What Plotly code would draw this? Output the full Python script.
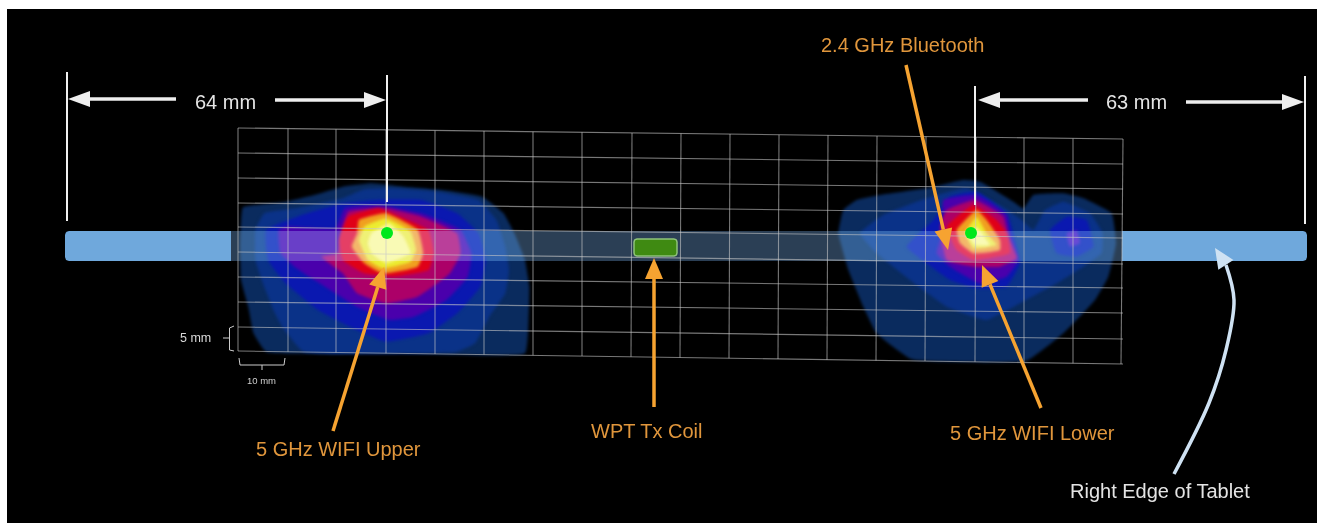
import math
import plotly.graph_objects as go

# ---------- grid lines (picture pixels) ----------
grid_top_x = [238,288,336,386,435,484,533,582,632,681,730,779,828,877,926,976,1024,1073,1123]
grid_bot_x = [238,288,336,386,435,484,533,582,631,680,729,778,827,876,925,975,1024,1073,1121]
grid_left_y = [128,153,178,203,227,252,277,302,327,351]
grid_right_y = [139,164,189,214,238,264,288,313,339,364]

left_scale = (0, 120, 2.8, 3.0)
left_levels = [
 [(680,262),(800,245),(880,225),(960,200),(1040,190),(1130,200),(1240,210),(1350,230),(1410,280),(1440,340),(1470,420),(1482,500),(1480,600),(1470,700),(1100,698),(745,695),(710,640),(695,560),(675,480),(672,380),(675,300)],
 [(715,330),(740,280),(830,265),(960,235),(1020,208),(1100,205),(1220,215),(1340,240),(1390,300),(1415,380),(1425,450),(1415,520),(1370,590),(1330,670),(1280,695),(850,695),(790,620),(770,580),(740,500),(715,420)],
 [(745,330),(860,280),(960,250),(1050,240),(1180,240),(1280,280),(1340,340),(1360,420),(1345,500),(1280,580),(1200,640),(1080,665),(980,620),(890,570),(800,490),(750,420)],
 [(780,330),(800,320),(940,325),(965,265),(1060,255),(1180,280),(1290,330),(1320,400),(1310,470),(1250,540),(1160,590),(1090,600),(1000,560),(910,500),(830,445),(785,400)],
 [(955,340),(975,275),(1080,265),(1180,290),(1280,340),(1290,400),(1260,460),(1170,530),(1080,550),(1000,520),(960,460),(900,410),(945,400)],
 [(950,360),(975,290),(1060,265),(1120,290),(1200,330),(1215,400),(1200,450),(1100,470),(1020,460),(960,420)],
 [(1000,340),(1005,300),(1080,280),(1170,330),(1185,400),(1170,440),(1070,460),(1020,430),(985,380)],
 [(1005,360),(1020,320),(1080,295),(1150,335),(1165,390),(1150,425),(1070,445),(1030,420)],
 [(1030,370),(1040,340),(1090,310),(1130,350),(1150,400),(1080,430),(1040,400)],
]
right_scale = (800, 120, 3.0, 3.0)
right_levels = [
 [(115,340),(130,270),(170,240),(240,225),(380,205),(490,180),(540,185),(640,245),(670,265),(700,225),(790,220),(850,235),(935,280),(948,370),(925,470),(885,540),(790,640),(680,722),(335,718),(230,640),(190,560),(145,450),(125,380)],
 [(180,340),(250,285),(380,235),(500,205),(610,262),(665,300),(700,330),(735,270),(790,245),(870,280),(908,340),(905,400),(850,440),(770,490),(660,550),(560,600),(440,560),(330,480),(230,400)],
 [(320,380),(400,300),(450,230),(530,215),(620,280),(640,340),(660,430),(620,500),(530,505),(450,480),(380,430)],
 [(410,400),(430,330),(430,240),(530,225),(620,285),(630,340),(655,420),(620,470),(540,490),(450,440)],
 [(420,320),(440,270),(525,240),(610,290),(625,350),(650,415),(600,440),(520,440),(440,420)],
 [(440,320),(520,255),(590,300),(620,340),(630,400),(520,420),(470,390)],
 [(470,330),(530,270),(560,300),(600,360),(600,390),(520,400),(480,370)],
 [(495,340),(530,290),(560,340),(590,375),(520,385)],
 [(505,345),(530,320),(560,360),(570,375),(525,375)],
]
lobe_levels = [
 [(750,330),(800,290),(860,300),(880,380),(830,410),(770,400)],
 [(800,340),(830,330),(840,370),(810,380)],
]
level_colors = ["#0a2b5e","#0a3288","#0a18b0","#4a00ac","#ac0068","#e00018","#f0a020","#ecec30","#f8f890"]
lobe_colors = ["#0a18b0","#4a10c0"]

# ---------- tablet and coil ----------
bar_x = [65, 231, 1122, 1307]
bar_y = [231, 261]
coil_x = [634, 677]
coil_y = [239, 256]
hot_x = [387, 971]
hot_y = [233, 233]

# ---------- dimension marks ----------
ext_x = [[67,67],[387,387],[975,975],[1305,1305]]
ext_y = [[72,221],[75,202],[86,205],[76,224]]
white_arrows = [((176,99),(68,99)),((275,100),(386,100)),((1088,100),(978,100)),((1186,102),(1304,102))]
orange_arrows = [((333,431),(384,267)),((654,407),(654,258)),((906,65),(948,250)),((1041,408),(982,265))]
edge_curve_x = [1174,1209,1226,1234,1226]
edge_curve_y = [474,403,350,300,265]
edge_tip = (1215,248)

brace5_x = [234,229.5,229.5,234]
brace5_y = [326,328,350,351]
brace5_tick_x = [223,229]
brace5_tick_y = [338,338]
brace10_x = [239,240,284,285]
brace10_y = [358,365,365,358]
brace10_tick_x = [262,262]
brace10_tick_y = [365,370]

labels = [
 ("64 mm",225,102,20,"#e4e4e4"),("63 mm",1136,102,20,"#e4e4e4"),
 ("2.4 GHz Bluetooth",902,45,20,"#e0963c"),("5 GHz WIFI Upper",338,449,20,"#e0963c"),
 ("WPT Tx Coil",647,431,20,"#e0963c"),("5 GHz WIFI Lower",1032,433,20,"#e0963c"),
 ("Right Edge of Tablet",1160,491,20,"#e4e4e4"),
 ("5 mm",195,338,12.5,"#d8d8d8"),("10 mm",261,380,9.5,"#cfcfcf"),
]

fig = go.Figure()

def poly(xs, ys, color, spline=False, line=None, lw=0):
    fig.add_trace(go.Scatter(x=xs, y=ys, mode="lines", fill="toself", fillcolor=color,
        line=dict(width=lw, color=line or color, shape="spline" if spline else "linear", smoothing=0.35),
        hoverinfo="skip", showlegend=False))

def stroke(xs, ys, color, w, spline=False):
    fig.add_trace(go.Scatter(x=xs, y=ys, mode="lines",
        line=dict(width=w, color=color, shape="spline" if spline else "linear", smoothing=1.0),
        hoverinfo="skip", showlegend=False))

def contour(points, scale, color):
    ox, oy, sx, sy = scale
    xs = [ox + p[0]/sx for p in points]; ys = [oy + p[1]/sy for p in points]
    xs.append(xs[0]); ys.append(ys[0])
    poly(xs, ys, color, spline=True)

def head(tail, tip, length, half, color):
    dx, dy = tip[0]-tail[0], tip[1]-tail[1]
    n = (dx*dx+dy*dy)**0.5
    ux, uy = dx/n, dy/n
    bx, by = tip[0]-ux*length, tip[1]-uy*length
    poly([tip[0], bx-uy*half, bx+uy*half, tip[0]], [tip[1], by+ux*half, by-ux*half, tip[1]], color)
    return bx, by

def rounded(x0, x1, y0, y1, rl, rr):
    xs, ys = [], []
    corners = [(x1-rr, y0+rr, rr, -90), (x1-rr, y1-rr, rr, 0), (x0+rl, y1-rl, rl, 90), (x0+rl, y0+rl, rl, 180)]
    for cx, cy, r, a0 in corners:
        for k in range(6):
            a = math.radians(a0 + 18*k)
            xs.append(cx + r*math.cos(a)); ys.append(cy + r*math.sin(a))
    xs.append(xs[0]); ys.append(ys[0])
    return xs, ys

# black picture area with a thin white margin
poly([7,1317,1317,7,7],[9,9,523,523,9],"#000000")

# hot spots
blob_first = len(fig.data)
for pts, col in zip(left_levels, level_colors):
    contour(pts, left_scale, col)
for pts, col in zip(right_levels, level_colors):
    contour(pts, right_scale, col)
for pts, col in zip(lobe_levels, lobe_colors):
    contour(pts, right_scale, col)
blob_last = len(fig.data) - 1

# translucent tablet section; blended with the screen mode in the page
xs, ys = rounded(bar_x[0], bar_x[1], bar_y[0], bar_y[1], 4, 0)
poly(xs, ys, "#6fa8dc")
xs, ys = rounded(bar_x[2], bar_x[3], bar_y[0], bar_y[1], 0, 4)
poly(xs, ys, "#6fa8dc")
overlay_idx = len(fig.data)
poly([bar_x[1],bar_x[2],bar_x[2],bar_x[1],bar_x[1]],[bar_y[0],bar_y[0],bar_y[1],bar_y[1],bar_y[0]],"rgb(43,63,85)")

# grid
gx, gy = [], []
for a, b in zip(grid_left_y, grid_right_y):
    gx += [grid_top_x[0], grid_top_x[-1], None]; gy += [a, b, None]
for i, (t, b) in enumerate(zip(grid_top_x, grid_bot_x)):
    gx += [t, b, None]
    gy += [grid_left_y[0] + (grid_right_y[0]-grid_left_y[0])*i/18,
           grid_left_y[-1] + (grid_right_y[-1]-grid_left_y[-1])*i/18, None]
stroke(gx, gy, "rgba(200,200,200,0.6)", 1.1)

# coil
xs, ys = rounded(coil_x[0], coil_x[1], coil_y[0], coil_y[1], 3, 3)
poly(xs, ys, "#3f8a12", line="#8fc47a", lw=1.5)

# extension lines and dimension arrows
for xe, ye in zip(ext_x, ext_y):
    stroke(xe, ye, "#f0f0f0", 2)
for tail, tip in white_arrows:
    bx, by = head(tail, tip, 22, 8, "#eeeeee")
    stroke([tail[0], bx], [tail[1], by], "#eeeeee", 3.5)

# orange arrows
for tail, tip in orange_arrows:
    bx, by = head(tail, tip, 21, 9, "#f6a331")
    stroke([tail[0], bx], [tail[1], by], "#f6a331", 3.5)

# curved arrow to the tablet's right edge
stroke(edge_curve_x, edge_curve_y, "#cfe2f3", 3.5, spline=True)
head((edge_curve_x[-1], edge_curve_y[-1]), edge_tip, 20, 9, "#cfe2f3")

# scale braces
stroke(brace5_x, brace5_y, "#cccccc", 1)
stroke(brace5_tick_x, brace5_tick_y, "#cccccc", 1)
stroke(brace10_x, brace10_y, "#cccccc", 1)
stroke(brace10_tick_x, brace10_tick_y, "#cccccc", 1)

# feed points
fig.add_trace(go.Scatter(x=hot_x, y=hot_y, mode="markers",
    marker=dict(size=12, color="#00e81c", line=dict(width=0)), hoverinfo="skip", showlegend=False))

for txt, x, y, size, col in labels:
    fig.add_annotation(x=x, y=y, text=txt, showarrow=False, xanchor="center", yanchor="middle",
                       font=dict(family="Liberation Sans, Arial, sans-serif", size=size, color=col))

fig.update_layout(width=1317, height=523, margin=dict(l=0, r=0, t=0, b=0),
    paper_bgcolor="#ffffff", plot_bgcolor="#ffffff", showlegend=False,
    xaxis=dict(range=[0,1317], visible=False, fixedrange=True),
    yaxis=dict(range=[523,0], visible=False, fixedrange=True))

post = f"""
document.body.style.margin='0';document.body.style.overflow='hidden';
var tr=document.querySelectorAll('.scatterlayer .trace');
for(var i={blob_first};i<={blob_last};i++){{tr[i].style.filter='blur(1.6px)';}}
tr[{overlay_idx}].style.mixBlendMode='screen';
tr[{overlay_idx+1}].style.filter='blur(0.4px)';
document.querySelectorAll('.annotation').forEach(function(a){{a.style.filter='blur(0.3px)';}});
"""
fig.write_html("out.html", config={"displayModeBar": False}, post_script=post)
